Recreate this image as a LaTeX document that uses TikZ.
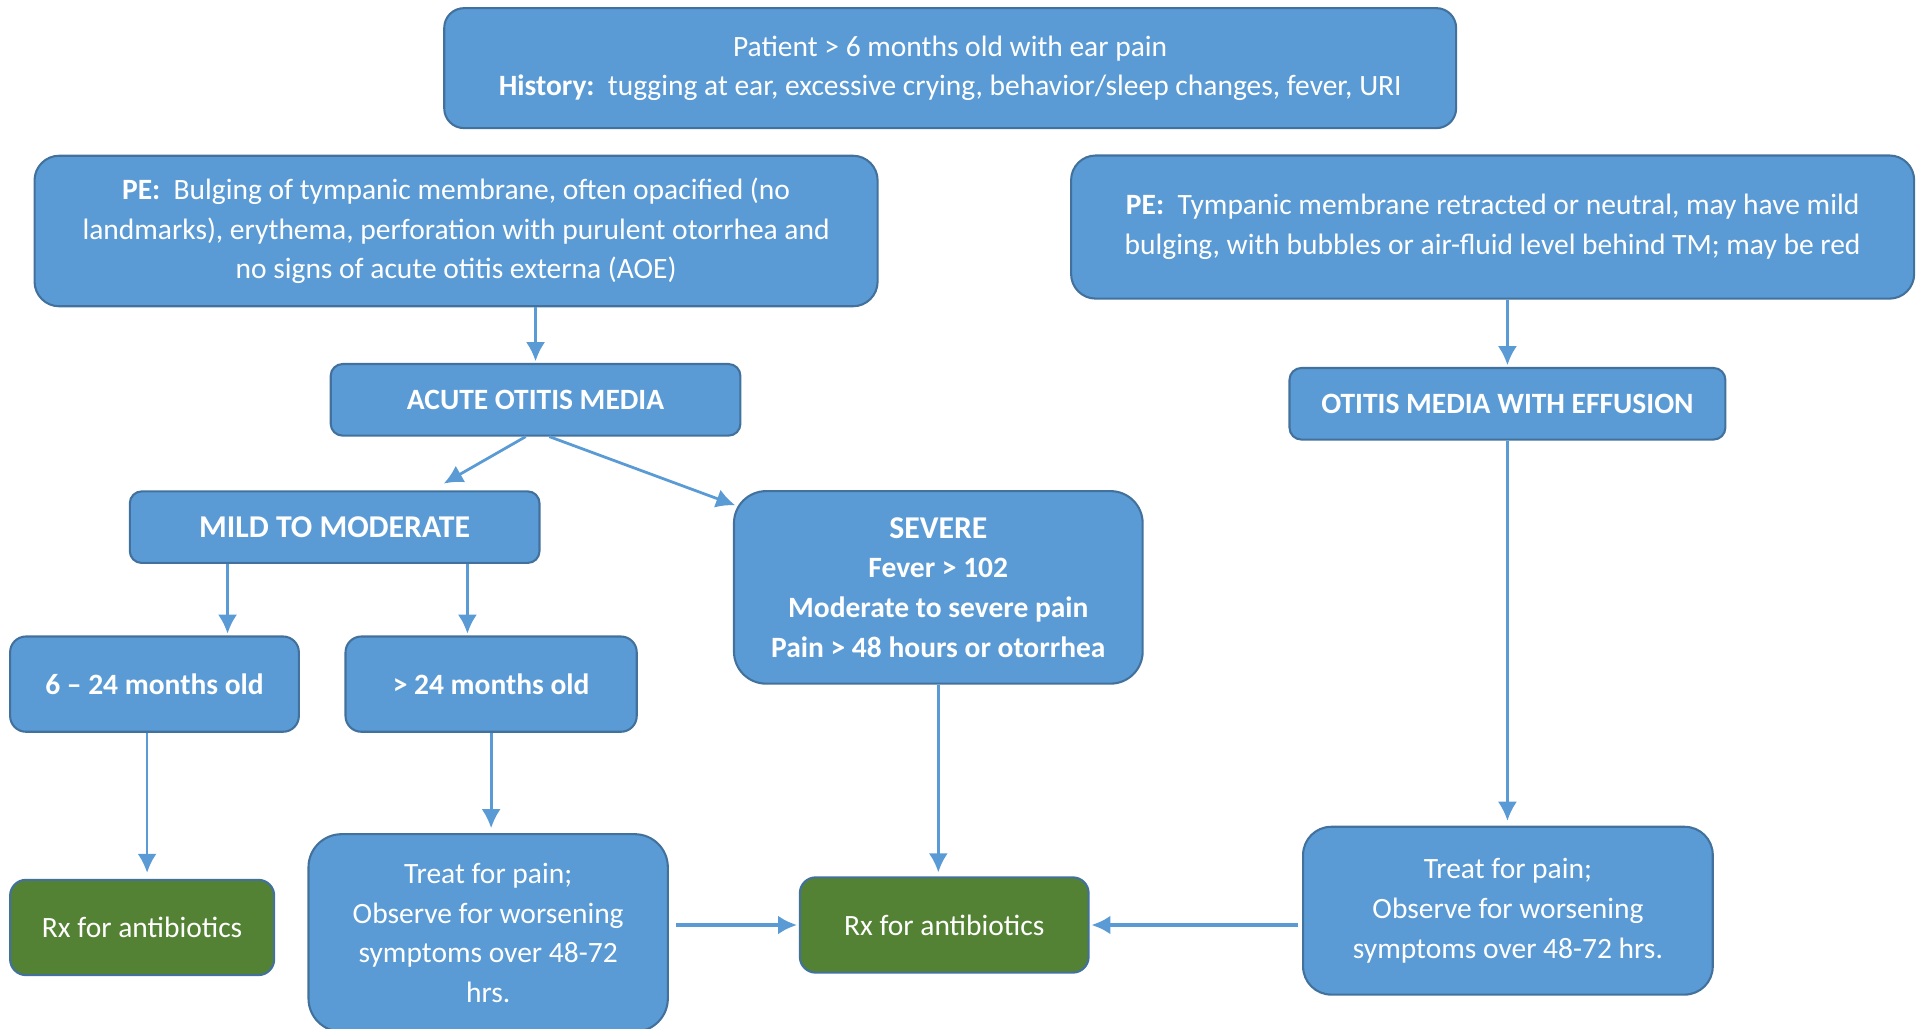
\documentclass[tikz,border=0pt]{standalone}
\usepackage{fontspec}
\setmainfont{Carlito}
\usetikzlibrary{calc, arrows.meta}
\definecolor{boxblue}{HTML}{5B9BD5}
\definecolor{boxedge}{HTML}{41719C}
\definecolor{rxgreen}{HTML}{548235}

\begin{document}
\begin{tikzpicture}[thick, nodes = {align = center}, >={Latex[length=11pt, width=11pt]}, font=\fontsize{17}{22.8}\selectfont]

  \tikzstyle{blk}=[draw=boxedge, fill=boxblue, text=white, line width=1.2pt, rounded corners=0.3cm]
  \tikzstyle{rx}=[draw=boxedge, fill=rxgreen, text=white, line width=1.2pt, rounded corners=0.32cm, minimum height=1.93cm]
  \tikzstyle{big}=[font=\fontsize{18.3}{22.8}\selectfont\bfseries]
  \tikzstyle{arr}=[->, draw=boxblue, line width=1.6pt, shorten >=1pt]

  \useasboundingbox (0,0) rectangle (39,-20.83);

  \node[blk, minimum width=20.5cm, minimum height=2.43cm, rounded corners=0.4cm] (hist) at (19.25,-1.38)
    {Patient > 6 months old with ear pain\\ \textbf{History:}\ \ tugging at ear, excessive crying, behavior/sleep changes, fever, URI};

  \node[blk, minimum width=17.08cm, minimum height=3.05cm, rounded corners=0.5cm] (peaom) at (9.24,-4.68)
    {\textbf{PE:}\ \ Bulging of tympanic membrane, often opacified (no\\ landmarks), erythema, perforation with purulent otorrhea and\\ no signs of acute otitis externa (AOE)};
  \node[blk, minimum width=17.08cm, minimum height=2.9cm, rounded corners=0.5cm] (peome) at (30.24,-4.6)
    {\textbf{PE:}\ \ Tympanic membrane retracted or neutral, may have mild\\ bulging, with bubbles or air-fluid level behind TM; may be red};

  \node[blk, minimum width=8.3cm, minimum height=1.45cm, rounded corners=0.24cm] (aom) at (10.85,-8.1) {\textbf{ACUTE OTITIS MEDIA}};
  \node[blk, minimum width=8.83cm, minimum height=1.45cm, rounded corners=0.24cm] (ome) at (30.54,-8.18) {\textbf{OTITIS MEDIA WITH EFFUSION}};

  \node[blk, big, minimum width=8.3cm, minimum height=1.45cm, rounded corners=0.24cm] (mild) at (6.78,-10.68) {MILD TO MODERATE};
  \node[blk, minimum width=8.28cm, minimum height=3.9cm, rounded corners=0.65cm] (sev) at (19.01,-11.9)
    {{\fontsize{18.3}{22.8}\selectfont\bfseries SEVERE}\\ \textbf{Fever > 102}\\ \textbf{Moderate to severe pain}\\ \textbf{Pain > 48 hours or otorrhea}};

  \node[blk, minimum width=5.85cm, minimum height=1.93cm, rounded corners=0.32cm] (young) at (3.13,-13.86) {\textbf{6 – 24 months old}};
  \node[blk, minimum width=5.9cm, minimum height=1.93cm, rounded corners=0.32cm] (old) at (9.95,-13.86) {\textbf{> 24 months old}};

  \node[rx, minimum width=5.35cm] (rx1) at (2.88,-18.79) {Rx for antibiotics};
  \node[blk, minimum width=7.28cm, minimum height=4.0cm, rounded corners=0.67cm] (obs1) at (9.89,-18.9)
    {Treat for pain;\\ Observe for worsening\\ symptoms over 48-72\\ hrs.};
  \node[rx, minimum width=5.85cm] (rx2) at (19.13,-18.74) {Rx for antibiotics};
  \node[blk, minimum width=8.3cm, minimum height=3.4cm, rounded corners=0.57cm] (obs2) at (30.55,-18.45)
    {Treat for pain;\\ Observe for worsening\\ symptoms over 48-72 hrs.};

  \coordinate (youngin) at ([xshift=1.48cm]young.north);
  \coordinate (oldin) at ([xshift=-0.48cm]old.north);
  \coordinate (rx1in) at ([xshift=0.1cm]rx1.north);

  \draw[arr] (peaom.south -| aom.north) -- (aom.north);
  \draw[arr] (peome.south -| ome.north) -- (ome.north);
  \draw[arr] ([xshift=-0.2cm]aom.south) -- ([xshift=2.18cm, yshift=0.12cm]mild.north);
  \draw[arr] ([xshift=0.28cm]aom.south) -- ([xshift=0.08cm, yshift=-0.32cm]sev.north west);
  \draw[arr] (mild.south -| youngin) -- (youngin);
  \draw[arr] (mild.south -| oldin) -- (oldin);
  \draw[arr, shorten >=0.12cm] (young.south -| rx1in) -- (rx1in);
  \draw[arr, shorten >=0.1cm] (old.south) -- (old.south |- obs1.north);
  \draw[arr, shorten >=0.08cm] (sev.south) -- (sev.south |- rx2.north);
  \draw[arr, shorten >=0.1cm] (ome.south) -- (ome.south |- obs2.north);
  \draw[arr, line width=2.2pt, shorten <=0.15cm] (rx2.west -| obs1.east) -- (rx2.west);
  \draw[arr, line width=2.2pt, shorten <=0.08cm] (rx2.east -| obs2.west) -- (rx2.east);
\end{tikzpicture}
\end{document}
